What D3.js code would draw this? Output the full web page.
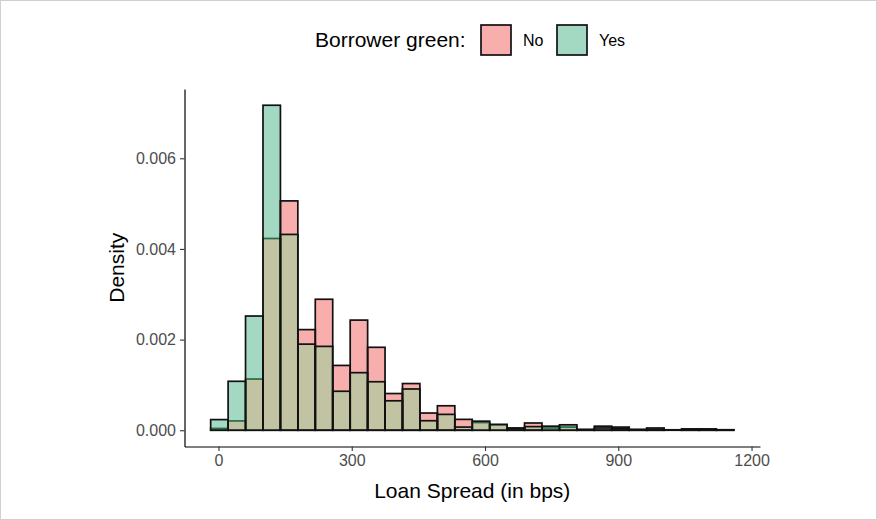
<!DOCTYPE html>
<html>
<head>
<meta charset="utf-8">
<script src="https://cdn.jsdelivr.net/npm/d3@7"></script>
<style>
    body { margin: 0; background: #fff; }
    svg { display: block; font-family: "Liberation Sans", Arial, sans-serif; }
    .tick text { fill: #4d4d4d; font-size: 16px; }
    .tick line { stroke: #333; stroke-width: 1.1; }
    .domain { stroke: #000; stroke-width: 1.2; }
</style>
</head>
<body>
<svg id="chart" width="877" height="520"></svg>
<script>
// bin left edges (bps), all bins 39.26 wide
const binStarts = [-17.6, 21.7, 60.9, 100.2, 139.4, 178.7, 217.9, 257.2, 296.5, 335.7,
    375.0, 414.2, 453.5, 492.8, 532.0, 571.3, 610.5, 649.8, 689.0, 728.3,
    767.6, 806.8, 846.1, 885.3, 924.6, 963.9, 1003.1, 1042.4, 1081.6, 1120.9];
const binWidth = 39.26;

// density per bin, borrower green = No / Yes
const densityNo = [0.00004, 0.000206, 0.00113, 0.00423, 0.00506, 0.00222, 0.00289, 0.00143, 0.00243, 0.00183,
    0.00081, 0.00103, 0.00038, 0.00054, 0.00024, 0.00017, 0.00012, 0.00005, 0.00016, 0.00005,
    0.00007, 0.00002, 0.00009, 0.00007, 0.00002, 0.00005, 0.00001, 0.00003, 0.00003, 0.00001];
const densityYes = [0.000235, 0.00108, 0.00252, 0.00717, 0.00432, 0.0019, 0.00185, 0.00086, 0.00127, 0.00107,
    0.00065, 0.00091, 0.00021, 0.00035, 0.00007, 0.0002, 0.00013, 0.00004, 0.00008, 0.00009,
    0.00012, 0.00001, 0.00005, 0.00004, 0.00001, 0.00002, 0, 0.00001, 0.00001, 0.00001];

const xTicks = [0, 300, 600, 900, 1200];
const yTicks = [0, 0.002, 0.004, 0.006];
const groups = ["No", "Yes"];

const colNo = "#f7aeac";
const colYes = "#a3d8c2";
const colBoth = "#c2c3a3";

function draw() {
    let svg = d3.select("#chart");

    let lo = binStarts[0];
    let hi = binStarts[binStarts.length - 1] + binWidth;
    let pad = (hi - lo) * 0.05;
    let yMax = d3.max(densityYes.concat(densityNo));

    var x = d3.scaleLinear().domain([lo - pad, hi + pad]).range([184.5, 760]);
    var y = d3.scaleLinear().domain([-yMax * 0.05, yMax * 1.05]).range([446.5, 89]);

    let bins = binStarts.map(function(s, i) {
        return { x0: s, x1: s + binWidth, no: densityNo[i], yes: densityYes[i] };
    });

    let plot = svg.append("g");

    // fills: No, Yes, then the overlap
    plot.selectAll("rect.no")
        .data(bins).enter().append("rect")
        .attr("class", "no")
        .attr("x", function(d) { return x(d.x0); })
        .attr("width", function(d) { return x(d.x1) - x(d.x0); })
        .attr("y", function(d) { return y(d.no); })
        .attr("height", function(d) { return y(0) - y(d.no); })
        .attr("fill", colNo);

    plot.selectAll("rect.yes")
        .data(bins).enter().append("rect")
        .attr("class", "yes")
        .attr("x", function(d) { return x(d.x0); })
        .attr("width", function(d) { return x(d.x1) - x(d.x0); })
        .attr("y", function(d) { return y(d.yes); })
        .attr("height", function(d) { return y(0) - y(d.yes); })
        .attr("fill", colYes);

    plot.selectAll("rect.both")
        .data(bins).enter().append("rect")
        .attr("class", "both")
        .attr("x", function(d) { return x(d.x0); })
        .attr("width", function(d) { return x(d.x1) - x(d.x0); })
        .attr("y", function(d) { return y(Math.min(d.no, d.yes)); })
        .attr("height", function(d) { return y(0) - y(Math.min(d.no, d.yes)); })
        .attr("fill", colBoth);

    // outlines (No outline seen through the Yes fill turns dark green)
    plot.selectAll("rect.noline")
        .data(bins).enter().append("rect")
        .attr("x", function(d) { return x(d.x0); })
        .attr("width", function(d) { return x(d.x1) - x(d.x0); })
        .attr("y", function(d) { return y(d.no); })
        .attr("height", function(d) { return y(0) - y(d.no); })
        .attr("fill", "none")
        .attr("stroke", function(d) { return d.yes > d.no ? "#2c6b49" : "#111"; })
        .attr("stroke-width", 1.7);

    plot.selectAll("rect.yesline")
        .data(bins).enter().append("rect")
        .attr("x", function(d) { return x(d.x0); })
        .attr("width", function(d) { return x(d.x1) - x(d.x0); })
        .attr("y", function(d) { return y(d.yes); })
        .attr("height", function(d) { return y(0) - y(d.yes); })
        .attr("fill", "none")
        .attr("stroke", "#111")
        .attr("stroke-width", 1.7);

    // axes
    svg.append("g")
        .attr("transform", "translate(0," + y.range()[0] + ")")
        .call(d3.axisBottom(x).tickValues(xTicks).tickFormat(d3.format("d")).tickSize(4.5).tickSizeOuter(0).tickPadding(4));

    svg.append("g")
        .attr("transform", "translate(" + x.range()[0] + ",0)")
        .call(d3.axisLeft(y).tickValues(yTicks).tickFormat(d3.format(".3f")).tickSize(4.5).tickSizeOuter(0).tickPadding(4));

    svg.append("text")
        .text("Loan Spread (in bps)")
        .attr("x", (x.range()[0] + x.range()[1]) / 2)
        .attr("y", 498)
        .attr("text-anchor", "middle")
        .attr("style", "font-size:21px; fill:#000;");

    svg.append("text")
        .text("Density")
        .attr("x", 0).attr("y", 0)
        .attr("text-anchor", "middle")
        .attr("style", "font-size:21px; fill:#000;")
        .attr("transform", "translate(124," + ((y.range()[0] + y.range()[1]) / 2) + ") rotate(-90)");

    // legend on top
    let legend = svg.append("g").attr("transform", "translate(0,40)");
    legend.append("text")
        .text("Borrower green:")
        .attr("x", 315).attr("y", 0)
        .attr("dy", "0.35em")
        .attr("style", "font-size:21px; fill:#000;");

    let keyX = [481, 557];
    let keyCol = [colNo, colYes];
    let item = legend.selectAll("g.key")
        .data(groups).enter().append("g")
        .attr("class", "key")
        .attr("transform", function(d, i) { return "translate(" + keyX[i] + ",0)"; });

    item.append("rect")
        .attr("x", 0).attr("y", -15)
        .attr("width", 30).attr("height", 30)
        .attr("fill", function(d, i) { return keyCol[i]; })
        .attr("stroke", "#111")
        .attr("stroke-width", 1.7);

    item.append("text")
        .text(function(d) { return d; })
        .attr("x", 42).attr("y", 0)
        .attr("dy", "0.35em")
        .attr("style", "font-size:16px; fill:#000;");

    svg.append("rect")
        .attr("x", 0.5).attr("y", 0.5)
        .attr("width", 876).attr("height", 519)
        .attr("fill", "none")
        .attr("stroke", "#d0d0d0");
}

draw();
</script>
</body>
</html>
